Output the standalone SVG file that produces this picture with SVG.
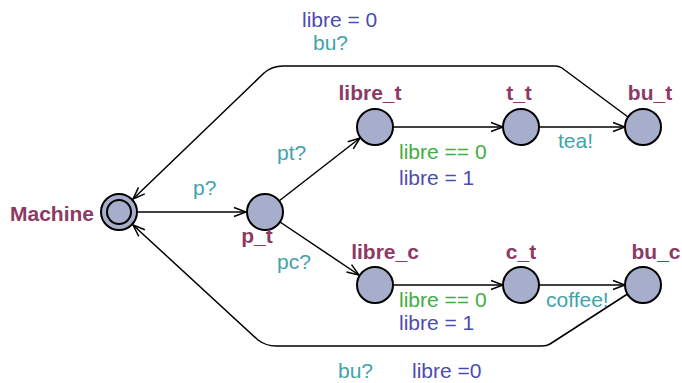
<svg xmlns="http://www.w3.org/2000/svg" width="682" height="383" viewBox="0 0 682 383">
<defs>
<style>
.loc{fill:#a6aecb;stroke:#000;stroke-width:2}
.name{font-family:"Liberation Sans",Arial,sans-serif;font-weight:bold;font-size:21px;fill:#8c3a64}
.lbl{font-family:"Liberation Sans",Arial,sans-serif;font-size:21px}
.sync{fill:#3fa3aa}
.asg{fill:#4c4cae}
.grd{fill:#42ad42}
.edge{fill:none;stroke:#000;stroke-width:1.5;marker-end:url(#arr)}
</style>
<marker id="arr" markerUnits="userSpaceOnUse" markerWidth="16" markerHeight="12" viewBox="-14 -6 16 12" refX="0" refY="0" orient="auto">
<path d="M-12,-4.5 L0,0 L-12,4.5" fill="none" stroke="#000" stroke-width="1.5"/>
</marker>
</defs>
<rect width="682" height="383" fill="#fff"/>
<g id="edges">
<path class="edge" d="M137,212 L246,212"/>
<path class="edge" d="M279,201 L360,138"/>
<path class="edge" d="M280,222 L359,275"/>
<path class="edge" d="M393,127 L503,127"/>
<path class="edge" d="M539,127 L625,127"/>
<path class="edge" d="M393,285 L503,285"/>
<path class="edge" d="M539,285 L625,285"/>
<path class="edge" d="M628,117 L562,68 Q559,66 555,66 L283,66 Q272,66 264,73 L133,199"/>
<path class="edge" d="M629,293 L550,344 Q547,346 542,346 L276,346 Q266,346 258,340 L133,225"/>
</g>
<g id="Machine">
<circle class="loc" cx="119" cy="212" r="18"/>
<circle class="loc" cx="119" cy="212" r="12"/>
<text class="name" x="94" y="221" text-anchor="end">Machine</text>
</g>
<g id="p_t">
<circle class="loc" cx="265" cy="212" r="18"/>
<text class="name" x="257" y="243" text-anchor="middle">p_t</text>
</g>
<g id="libre_t">
<circle class="loc" cx="375" cy="127" r="18"/>
<text class="name" x="370" y="100" text-anchor="middle">libre_t</text>
</g>
<g id="t_t">
<circle class="loc" cx="521" cy="127" r="18"/>
<text class="name" x="519" y="100" text-anchor="middle">t_t</text>
</g>
<g id="bu_t">
<circle class="loc" cx="643" cy="127" r="18"/>
<text class="name" x="650" y="100" text-anchor="middle">bu_t</text>
</g>
<g id="libre_c">
<circle class="loc" cx="375" cy="285" r="18"/>
<text class="name" x="385" y="259" text-anchor="middle">libre_c</text>
</g>
<g id="c_t">
<circle class="loc" cx="521" cy="285" r="18"/>
<text class="name" x="521" y="259" text-anchor="middle">c_t</text>
</g>
<g id="bu_c">
<circle class="loc" cx="643" cy="285" r="18"/>
<text class="name" x="656" y="259" text-anchor="middle">bu_c</text>
</g>
<g id="labels">
<text class="lbl asg" x="302" y="27">libre = 0</text>
<text class="lbl sync" x="313" y="50">bu?</text>
<text class="lbl sync" x="193" y="195">p?</text>
<text class="lbl sync" x="277" y="160">pt?</text>
<text class="lbl sync" x="277" y="269">pc?</text>
<text class="lbl grd" x="399" y="159">libre == 0</text>
<text class="lbl asg" x="399" y="185">libre = 1</text>
<text class="lbl sync" x="558" y="148">tea!</text>
<text class="lbl grd" x="399" y="307">libre == 0</text>
<text class="lbl asg" x="399" y="330">libre = 1</text>
<text class="lbl sync" x="546" y="307">coffee!</text>
<text class="lbl sync" x="338" y="378">bu?</text>
<text class="lbl asg" x="412" y="378">libre =0</text>
</g>
</svg>
